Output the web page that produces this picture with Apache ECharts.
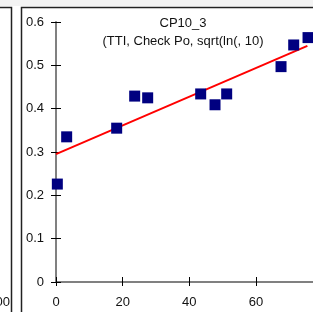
<!DOCTYPE html>
<html>
<head>
<meta charset="utf-8">
<script src="https://cdn.jsdelivr.net/npm/echarts@6/dist/echarts.min.js"></script>
<style>
  html, body { margin: 0; padding: 0; background: #fff; }
  #chart { width: 313px; height: 312px; }
</style>
</head>
<body>
<div id="chart"></div>
<script>
// scatter points (x, y)
const pointsX = [0.4, 3.2, 18.2, 23.6, 27.5, 43.4, 47.7, 51.2, 67.5, 71.3, 75.6];
const pointsY = [0.226, 0.335, 0.355, 0.429, 0.425, 0.434, 0.409, 0.434, 0.497, 0.547, 0.564];
// fitted line end points
const fitX = [0, 75.4];
const fitY = [0.295, 0.545];
const titleMain = "CP10_3";
const titleSub = "(TTI, Check Po, sqrt(ln(, 10)";

const font = "Liberation Sans, Arial, sans-serif";
const chart = echarts.init(document.getElementById("chart"), null, { renderer: "canvas" });

const option = {
  animation: false,
  backgroundColor: "#fff",
  title: [
    { text: titleMain, left: 178, top: 12, textAlign: "center",
      textStyle: { fontFamily: font, fontSize: 13, fontWeight: "normal", color: "#111" } },
    { text: titleSub, left: 178, top: 30, textAlign: "center",
      textStyle: { fontFamily: font, fontSize: 13, fontWeight: "normal", color: "#111" } }
  ],
  graphic: [
    { type: "rect", shape: { x: 0, y: 0, width: 313, height: 6 }, style: { fill: "#f3f3f3" }, silent: true },
    { type: "polyline", shape: { points: [[0, 7.5], [11.5, 7.5], [11.5, 312]] },
      style: { stroke: "#222", lineWidth: 1.5, fill: null }, silent: true },
    { type: "polyline", shape: { points: [[21.5, 312], [21.5, 7.5], [313, 7.5]] },
      style: { stroke: "#222", lineWidth: 1.5, fill: null }, silent: true },
    { type: "text", x: 10, y: 296, style: { text: "100", textAlign: "right", font: "13px " + font, fill: "#111" }, silent: true }
  ],
  grid: { left: 56, top: 22, width: 266.7, height: 260, outerBoundsMode: "none", containLabel: false },
  xAxis: [
    { type: "value", min: 0, max: 80, interval: 20,
      axisLine: { lineStyle: { color: "#808080", width: 2 } },
      axisTick: { show: true, length: 4, lineStyle: { color: "#000", width: 1 } },
      axisLabel: { margin: 14, fontFamily: font, fontSize: 13, color: "#111" },
      splitLine: { show: false } },
    { type: "value", min: 0, max: 80, interval: 20, position: "bottom",
      axisLine: { show: false },
      axisTick: { show: true, inside: true, length: 5, lineStyle: { color: "#000", width: 1 } },
      axisLabel: { show: false }, splitLine: { show: false } }
  ],
  yAxis: [
    { type: "value", min: 0, max: 0.6, interval: 0.1,
      axisLine: { show: true, lineStyle: { color: "#808080", width: 2 } },
      axisTick: { show: true, length: 5, lineStyle: { color: "#000", width: 1 } },
      axisLabel: { margin: 12, fontFamily: font, fontSize: 13, color: "#111",
        formatter: v => (Math.round(v * 10) / 10).toString() },
      splitLine: { show: false } },
    { type: "value", min: 0, max: 0.6, interval: 0.1, position: "left",
      axisLine: { show: false },
      axisTick: { show: true, inside: true, length: 5, lineStyle: { color: "#000", width: 1 } },
      axisLabel: { show: false }, splitLine: { show: false } }
  ],
  series: [
    { type: "line", data: fitX.map((x, i) => [x, fitY[i]]), showSymbol: false,
      lineStyle: { color: "#ff0000", width: 2 }, z: 2 },
    { type: "scatter", data: pointsX.map((x, i) => [x, pointsY[i]]),
      symbol: "rect", symbolSize: 11, itemStyle: { color: "#000080", opacity: 1 }, z: 3 }
  ]
};

chart.setOption(option);
</script>
</body>
</html>
